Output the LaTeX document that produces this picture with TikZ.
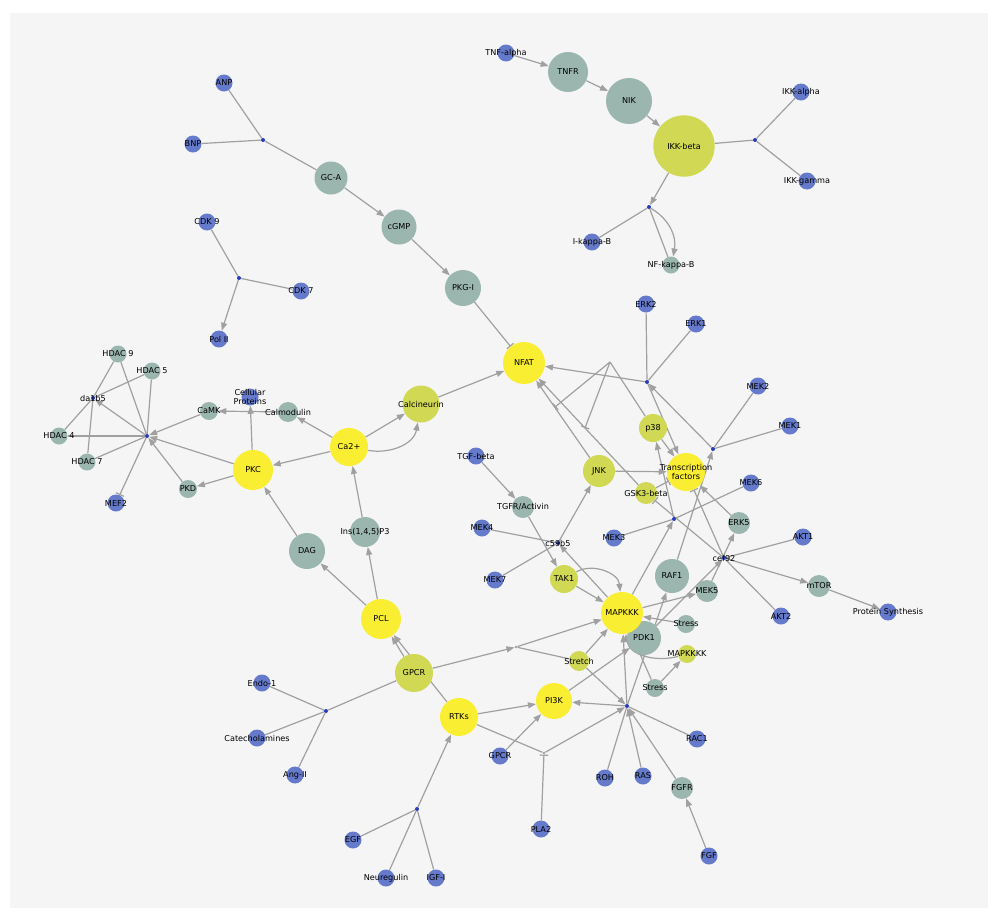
\documentclass[tikz,border=0pt]{standalone}
\usepackage{fontspec}
\newfontfamily\lblfont{DejaVu Sans}
\usetikzlibrary{arrows.meta}
\definecolor{bluec}{RGB}{102,122,204}
\definecolor{grayc}{RGB}{155,182,175}
\definecolor{yelc}{RGB}{250,238,50}
\definecolor{ygc}{RGB}{208,216,84}
\definecolor{jc}{RGB}{40,60,190}
\definecolor{edgec}{RGB}{160,160,160}
\definecolor{bgc}{RGB}{245,245,245}
\pgfdeclarelayer{back}
\pgfdeclarelayer{edges}
\pgfsetlayers{back,edges,main}
\newcommand\nn[4]{\node[#1, label={[lbl]center:{#4}}] (#2) at (#3) {};}
\begin{document}
\begin{tikzpicture}[x=0.75pt,y=-0.75pt,
  lbl/.style={font=\lblfont\fontsize{6.1}{6.9}\selectfont, text=black, align=center, inner sep=0pt},
  nd/.style={circle, inner sep=0pt, draw=none, minimum size=#1},
  bn/.style={nd=12.75pt, fill=bluec},
  gn/.style={nd=#1, fill=grayc},
  yn/.style={nd=#1, fill=yelc},
  gyn/.style={nd=#1, fill=ygc},
  jn/.style={circle, inner sep=0pt, minimum size=3pt, fill=jc},
  jg/.style={circle, inner sep=0pt, minimum size=2pt, fill=edgec},
  ln/.style={draw=edgec, line width=0.9pt},
  act/.style={ln, -{Triangle[length=6pt,width=4.5pt]}},
  inh/.style={ln, -{Bar[width=6.5pt, line width=0.9pt]}},
]
\useasboundingbox (0,0) rectangle (1000,918);
\begin{pgfonlayer}{back}
\fill[white] (0,0) rectangle (1000,918);
\fill[bgc] (10,13) rectangle (988,908);
\end{pgfonlayer}
% ---- nodes ----
\nn{bn}{anp}{224,83}{ANP}
\nn{bn}{bnp}{193,144}{BNP}
\nn{jn}{j1}{263,140}{}
\nn{gn=24.75pt}{gca}{331,178}{GC-A}
\nn{gn=26.25pt}{cgmp}{399,227}{cGMP}
\nn{gn=27pt}{pkg}{463,288}{PKG-I}
\nn{bn}{cdk9}{207,222}{CDK 9}
\nn{jn}{j2}{239,278}{}
\nn{bn}{cdk7}{301,291}{CDK 7}
\nn{bn}{pol}{219,339}{Pol II}
\nn{bn}{tnfa}{506,53}{TNF-alpha}
\nn{gn=30pt}{tnfr}{568,72}{TNFR}
\nn{gn=34.5pt}{nik}{629,101}{NIK}
\nn{gyn=46pt}{ikkb}{684,146}{IKK-beta}
\nn{jn}{j3}{755,140}{}
\nn{bn}{ikka}{801,92}{IKK-alpha}
\nn{bn}{ikkg}{807,181}{IKK-gamma}
\nn{jn}{j4}{649,207}{}
\nn{bn}{ikb}{592,242}{I-kappa-B}
\nn{gn=12.75pt}{nfkb}{671,265}{NF-kappa-B}
\nn{gn=12.75pt}{hd9}{118,354}{HDAC 9}
\nn{gn=12.75pt}{hd5}{152,371}{HDAC 5}
\nn{jn}{da}{93,398}{da1b5}
\nn{gn=12.75pt}{hd4}{59,436}{HDAC 4}
\nn{gn=12.75pt}{hd7}{87,462}{HDAC 7}
\nn{jn}{hub}{147,436}{}
\nn{bn}{mef2}{116,503}{MEF2}
\nn{gn=13.5pt}{pkd}{188,489}{PKD}
\nn{gn=13.5pt}{camk}{209,411}{CaMK}
\nn{bn}{cellp}{250,397}{Cellular\\Proteins}
\nn{gn=15pt}{calm}{288,412}{Calmodulin}
\nn{gyn=27.75pt}{calc}{421,404}{Calcineurin}
\nn{yn=28.5pt}{ca}{349,447}{Ca2+}
\nn{yn=30pt}{pkc}{253,470}{PKC}
\nn{gn=27pt}{dag}{307,551}{DAG}
\nn{gn=22.5pt}{ins}{365,532}{Ins(1,4,5)P3}
\nn{yn=30pt}{pcl}{381,619}{PCL}
\nn{gyn=28.5pt}{gpcr}{414,673}{GPCR}
\nn{bn}{endo}{262,683}{Endo-1}
\nn{jn}{j11}{326,711}{}
\nn{bn}{cat}{257,738}{Catecholamines}
\nn{bn}{ang}{295,775}{Ang-II}
\nn{yn=28.5pt}{rtks}{459,717}{RTKs}
\nn{jn}{j13}{417,809}{}
\nn{bn}{egf}{353,840}{EGF}
\nn{bn}{neu}{386,878}{Neuregulin}
\nn{bn}{igf}{436,878}{IGF-I}
\nn{bn}{gpcr2}{500,756}{GPCR}
\nn{jg}{j12}{544,753}{}
\nn{bn}{pla2}{541,829}{PLA2}
\nn{yn=27pt}{pi3k}{554,701}{PI3K}
\nn{jn}{j9}{627,706}{}
\nn{bn}{roh}{605,778}{ROH}
\nn{bn}{ras}{643,776}{RAS}
\nn{bn}{rac1}{697,739}{RAC1}
\nn{gn=16.5pt}{fgfr}{682,788}{FGFR}
\nn{bn}{fgf}{709,856}{FGF}
\nn{yn=31.5pt}{nfat}{524,363}{NFAT}
\nn{bn}{erk2}{646,304}{ERK2}
\nn{bn}{erk1}{696,324}{ERK1}
\nn{jn}{j6}{647,382}{}
\nn{bn}{mek2}{758,386}{MEK2}
\nn{bn}{mek1}{790,426}{MEK1}
\nn{jn}{j7}{713,449}{}
\nn{gyn=21pt}{p38}{653,428}{p38}
\nn{yn=28.5pt}{tf}{686,472}{Transcription\\factors}
\nn{gyn=24pt}{jnk}{599,471}{JNK}
\nn{gyn=16.5pt}{gsk}{646,493}{GSK3-beta}
\nn{bn}{tgfb}{476,456}{TGF-beta}
\nn{gn=16.5pt}{tgfr}{523,507}{TGFR/Activin}
\nn{bn}{mek4}{482,528}{MEK4}
\nn{jn}{c59}{558,543}{c59b5}
\nn{bn}{mek6}{751,483}{MEK6}
\nn{gn=16.5pt}{erk5}{739,523}{ERK5}
\nn{bn}{mek3}{614,538}{MEK3}
\nn{jn}{j8}{674,519}{}
\nn{bn}{akt1}{803,537}{AKT1}
\nn{jn}{cef}{724,558}{cef92}
\nn{bn}{mek7}{495,580}{MEK7}
\nn{gyn=21pt}{tak1}{564,579}{TAK1}
\nn{gn=25.5pt}{raf1}{672,576}{RAF1}
\nn{gn=16.5pt}{mek5}{707,591}{MEK5}
\nn{gn=25.5pt}{pdk1}{644,638}{PDK1}
\nn{yn=31.5pt}{mapkkk}{622,613}{MAPKKK}
\nn{gn=13.5pt}{str1}{686,624}{Stress}
\nn{gyn=13.5pt}{m4k}{687,654}{MAPKKKK}
\nn{gyn=15pt}{stretch}{579,661}{Stretch}
\nn{gn=13.5pt}{str2}{655,688}{Stress}
\nn{jg}{j10}{516,647}{}
\nn{gn=16.5pt}{mtor}{819,586}{mTOR}
\nn{bn}{akt2}{781,616}{AKT2}
\nn{bn}{ps}{888,612}{Protein Synthesis}
\coordinate (pj) at (610,362);
\coordinate (b1) at (555,407);
\coordinate (b2) at (585,428);
% ---- edges ----
\begin{pgfonlayer}{edges}
\draw[ln] (anp) -- (j1);
\draw[ln] (bnp) -- (j1);
\draw[ln] (j1) -- (gca);
\draw[act] (gca) -- (cgmp);
\draw[act] (cgmp) -- (pkg);
\draw[inh] (pkg) -- (nfat);
\draw[ln] (cdk9) -- (j2);
\draw[ln] (cdk7) -- (j2);
\draw[act] (j2) -- (pol);
\draw[act] (tnfa) -- (tnfr);
\draw[act] (tnfr) -- (nik);
\draw[act] (nik) -- (ikkb);
\draw[ln] (ikkb) -- (j3);
\draw[ln] (ikka) -- (j3);
\draw[ln] (ikkg) -- (j3);
\draw[act] (ikkb) -- (j4);
\draw[ln] (j4) -- (ikb);
\draw[ln] (j4) -- (nfkb);
\draw[act] (j4) to[bend left=35] (nfkb);
% HDAC cluster
\draw[ln] (hd9) -- (da);
\draw[ln] (hd5) -- (da);
\draw[ln] (hd4) -- (da);
\draw[ln] (hd7) -- (da);
\draw[ln] (hd9) -- (hub);
\draw[ln] (hd5) -- (hub);
\draw[ln] (hd4) -- (hub);
\draw[ln] (hd7) -- (hub);
\draw[act] (hub) -- (da);
\draw[inh] (hub) -- (mef2);
\draw[act] (camk) -- (hub);
\draw[act] (pkc) -- (hub);
\draw[act] (pkd) -- (hub);
\draw[act] (calm) -- (camk);
\draw[act] (pkc) -- (cellp);
\draw[act] (ca) -- (calm);
\draw[act] (ca) -- (pkc);
\draw[act] (ca) -- (calc);
\draw[act] (ca) to[out=-10,in=-100] (calc);
\draw[act] (calc) -- (nfat);
\draw[act] (pkc) -- (pkd);
\draw[act] (dag) -- (pkc);
\draw[act] (ins) -- (ca);
\draw[act] (pcl) -- (dag);
\draw[act] (pcl) -- (ins);
\draw[act] (gpcr) -- (pcl);
\draw[act] (rtks) -- (pcl);
\draw[ln] (endo) -- (j11);
\draw[ln] (cat) -- (j11);
\draw[ln] (ang) -- (j11);
\draw[ln] (j11) -- (gpcr);
\draw[act] (gpcr) -- (j10);
\draw[act] (j10) -- (mapkkk);
\draw[ln] (stretch) -- (j10);
\draw[act] (stretch) -- (mapkkk);
\draw[act] (stretch) -- (j9);
\draw[act] (rtks) -- (pi3k);
\draw[ln] (rtks) -- (j12);
\draw[act] (gpcr2) -- (pi3k);
\draw[inh] (pla2) -- (j12);
\draw[act] (j12) -- (j9);
\draw[act] (j9) -- (pi3k);
\draw[ln] (roh) -- (j9);
\draw[act] (ras) -- (j9);
\draw[ln] (rac1) -- (j9);
\draw[act] (fgfr) -- (j9);
\draw[act] (fgf) -- (fgfr);
\draw[ln] (egf) -- (j13);
\draw[ln] (neu) -- (j13);
\draw[ln] (igf) -- (j13);
\draw[act] (j13) -- (rtks);
\draw[act] (pi3k) -- (pdk1);
\draw[act] (j9) -- (mapkkk);
\draw[act] (j9) -- (raf1);
\draw[act] (pdk1) -- (cef);
\draw[act] (str1) -- (mapkkk);
\draw[act] (str2) -- (m4k);
\draw[ln] (str2) -- (mapkkk);
\draw[act] (m4k) to[out=195,in=-80] (mapkkk);
% center
\draw[ln] (erk2) -- (j6);
\draw[ln] (erk1) -- (j6);
\draw[act] (j7) -- (j6);
\draw[ln] (mek2) -- (j7);
\draw[ln] (mek1) -- (j7);
\draw[act] (raf1) -- (j7);
\draw[act] (j6) -- (nfat);
\draw[act] (j6) -- (tf);
\draw[ln] (p38) -- (pj);
\draw[inh] (pj) -- (b1);
\draw[inh] (pj) -- (b2);
\draw[act] (jnk) -- (nfat);
\draw[act] (gsk) -- (nfat);
\draw[act] (p38) -- (tf);
\draw[act] (jnk) -- (tf);
\draw[inh] (gsk) -- (tf);
\draw[act] (erk5) -- (tf);
\draw[inh] (cef) -- (tf);
\draw[act] (j8) -- (p38);
\draw[ln] (mek3) -- (j8);
\draw[ln] (mek6) -- (j8);
\draw[act] (mapkkk) -- (j8);
\draw[act] (tgfb) -- (tgfr);
\draw[act] (tgfr) -- (tak1);
\draw[ln] (mek4) -- (c59);
\draw[ln] (mek7) -- (c59);
\draw[act] (mapkkk) -- (c59);
\draw[act] (c59) -- (jnk);
\draw[act] (tak1) -- (mapkkk);
\draw[act] (tak1) to[out=30,in=95] (mapkkk);
\draw[act] (mapkkk) -- (mek5);
\draw[act] (mek5) -- (erk5);
\draw[ln] (cef) -- (akt1);
\draw[ln] (cef) -- (akt2);
\draw[act] (cef) -- (mtor);
\draw[act] (mtor) -- (ps);
\draw[inh] (cef) -- (gsk);
\end{pgfonlayer}
\end{tikzpicture}
\end{document}
